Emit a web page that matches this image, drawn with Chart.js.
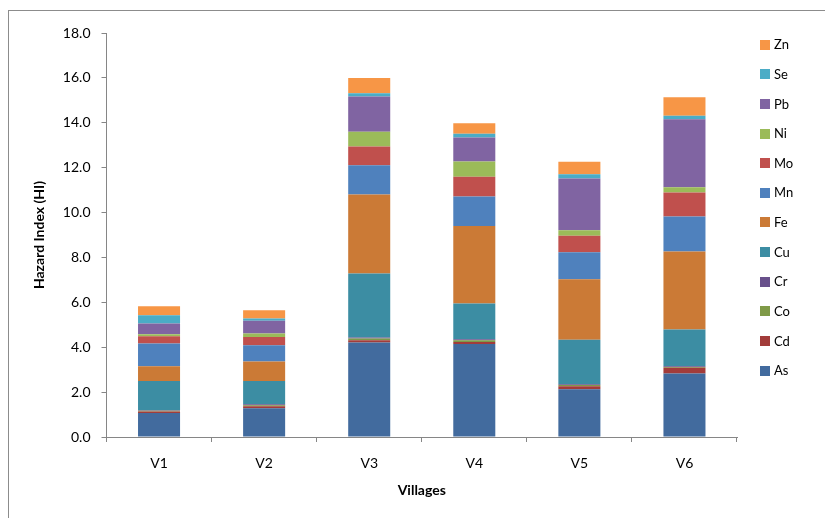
<!DOCTYPE html>
<html>
<head>
<meta charset="utf-8">
<script src="https://cdn.jsdelivr.net/npm/chart.js@4"></script>
<style>
  html, body { margin: 0; padding: 0; background: #ffffff; }
  #wrap { width: 825px; height: 518px; position: relative; }
</style>
</head>
<body>
<div id="wrap"><canvas id="c" width="825" height="518"></canvas></div>
<script>
// Villages on the x axis
const villages = ['V1', 'V2', 'V3', 'V4', 'V5', 'V6'];

// Hazard index contribution of each element, per village (stacked bottom to top)
const As = [1.07, 1.28, 4.21, 4.14, 2.13, 2.83];
const Cd = [0.07, 0.09, 0.10, 0.09, 0.13, 0.25];
const Co = [0.03, 0.04, 0.08, 0.08, 0.06, 0.04];
const Cr = [0.02, 0.05, 0.04, 0.04, 0.03, 0.03];
const Cu = [1.30, 1.03, 2.86, 1.60, 1.98, 1.64];
const Fe = [0.66, 0.87, 3.51, 3.45, 2.70, 3.48];
const Mn = [1.02, 0.73, 1.31, 1.31, 1.20, 1.55];
const Mo = [0.32, 0.37, 0.83, 0.89, 0.74, 1.07];
const Ni = [0.09, 0.15, 0.66, 0.67, 0.24, 0.24];
const Pb = [0.48, 0.57, 1.57, 1.07, 2.31, 3.03];
const Se = [0.37, 0.10, 0.15, 0.17, 0.19, 0.15];
const Zn = [0.40, 0.37, 0.68, 0.47, 0.55, 0.83];

// y axis range
const yMin = 0, yMax = 18, yStep = 2;

const series = [
  { label: 'As', data: As, color: '#426B9E' },
  { label: 'Cd', data: Cd, color: '#A23C3A' },
  { label: 'Co', data: Co, color: '#7F9A48' },
  { label: 'Cr', data: Cr, color: '#68508B' },
  { label: 'Cu', data: Cu, color: '#3C8DA3' },
  { label: 'Fe', data: Fe, color: '#CB7A36' },
  { label: 'Mn', data: Mn, color: '#4F81BD' },
  { label: 'Mo', data: Mo, color: '#C0504D' },
  { label: 'Ni', data: Ni, color: '#9BBB59' },
  { label: 'Pb', data: Pb, color: '#8064A2' },
  { label: 'Se', data: Se, color: '#4BACC6' },
  { label: 'Zn', data: Zn, color: '#F79646' }
];

const FONT = 'Lato, "Noto Sans", "Liberation Sans", sans-serif';
const AXIS_GREY = '#868686';

// Outer frame around the whole chart
const framePlugin = {
  id: 'frame',
  beforeDraw(chart) {
    const ctx = chart.ctx;
    ctx.save();
    ctx.strokeStyle = '#8c8c8c';
    ctx.lineWidth = 1;
    ctx.strokeRect(8.5, 10.5, 840, 540);
    ctx.restore();
  }
};

// Vertical legend on the right, top entry = top of the stack
const sideLegend = {
  id: 'sideLegend',
  afterDraw(chart) {
    const ctx = chart.ctx;
    const ds = chart.data.datasets;
    const x0 = 760, yTop = 44.7, step = 29.62, box = 10;
    ctx.save();
    ctx.font = '13px ' + FONT;
    ctx.textBaseline = 'middle';
    ctx.textAlign = 'left';
    for (let i = ds.length - 1, k = 0; i >= 0; i--, k++) {
      const y = yTop + k * step;
      ctx.fillStyle = ds[i].backgroundColor;
      ctx.fillRect(x0, Math.round(y - box / 2), box, box);
      ctx.fillStyle = '#000000';
      ctx.fillText(ds[i].label, x0 + 14, y + 0.5);
    }
    ctx.restore();
  }
};

new Chart(document.getElementById('c'), {
  type: 'bar',
  data: {
    labels: villages,
    datasets: series.map(s => ({
      label: s.label,
      data: s.data,
      backgroundColor: s.color,
      borderWidth: 0,
      stack: 'hi',
      categoryPercentage: 1.0,
      barPercentage: 0.4
    }))
  },
  options: {
    responsive: false,
    animation: false,
    devicePixelRatio: 1,
    layout: { padding: { left: 0, top: 33, right: 88, bottom: 0 } },
    plugins: {
      legend: { display: false },
      tooltip: { enabled: false }
    },
    scales: {
      x: {
        stacked: true,
        afterFit(scale) { scale.height = 81; },
        border: { color: AXIS_GREY, width: 1 },
        grid: {
          offset: true,
          drawOnChartArea: false,
          drawTicks: true,
          tickLength: 5,
          color: AXIS_GREY
        },
        ticks: {
          color: '#000000',
          font: { family: FONT, size: 14 },
          padding: 13
        },
        title: {
          display: true,
          text: 'Villages',
          color: '#000000',
          font: { family: FONT, size: 14, weight: 'bold' },
          padding: { top: 0, bottom: 19 }
        }
      },
      y: {
        stacked: true,
        min: yMin,
        max: yMax,
        afterFit(scale) { scale.width = 106.5; },
        border: { color: AXIS_GREY, width: 1 },
        grid: {
          drawOnChartArea: false,
          drawTicks: true,
          tickLength: 5,
          color: AXIS_GREY
        },
        ticks: {
          stepSize: yStep,
          color: '#000000',
          font: { family: FONT, size: 14 },
          padding: 11,
          callback: v => Number(v).toFixed(1)
        },
        title: {
          display: true,
          text: 'Hazard Index (HI)',
          color: '#000000',
          font: { family: FONT, size: 14, weight: 'bold' },
          padding: { top: 31, bottom: 0 }
        }
      }
    }
  },
  plugins: [framePlugin, sideLegend]
});
</script>
</body>
</html>
